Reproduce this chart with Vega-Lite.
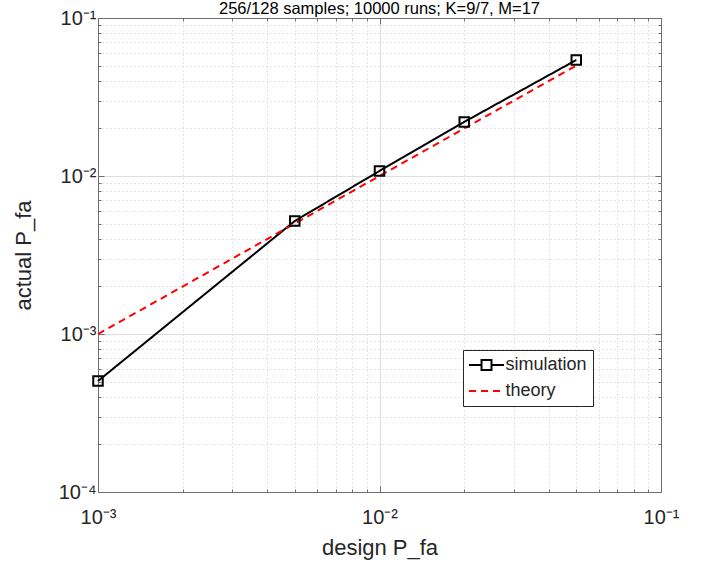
{
  "$schema": "https://vega.github.io/schema/vega-lite/v6.json",
  "width": 563,
  "height": 474,
  "autosize": {"type": "none"},
  "padding": {"left": 98, "top": 18, "right": 43, "bottom": 85},
  "background": "white",
  "title": {
    "text": "256/128 samples; 10000 runs; K=9/7, M=17",
    "fontSize": 16.5,
    "fontWeight": "normal",
    "font": "Liberation Sans",
    "color": "#000000",
    "offset": -9
  },
  "config": {
    "view": {"stroke": null},
    "font": "Liberation Sans"
  },
  "datasets": {
    "curves": [
      {"design": 0.001, "actual": 0.000504, "series": "simulation"},
      {"design": 0.005, "actual": 0.00519, "series": "simulation"},
      {"design": 0.01, "actual": 0.01076, "series": "simulation"},
      {"design": 0.02, "actual": 0.0220, "series": "simulation"},
      {"design": 0.05, "actual": 0.0542, "series": "simulation"},
      {"design": 0.001, "actual": 0.001, "series": "theory"},
      {"design": 0.005, "actual": 0.005, "series": "theory"},
      {"design": 0.01, "actual": 0.01, "series": "theory"},
      {"design": 0.02, "actual": 0.02, "series": "theory"},
      {"design": 0.05, "actual": 0.05, "series": "theory"}
    ]
  },
  "data": {"name": "curves"},
  "resolve": {"axis": {"x": "independent", "y": "independent"}},
  "layer": [
    {
      "mark": {"type": "line", "strokeWidth": 2},
      "encoding": {
        "x": {
          "field": "design", "type": "quantitative",
          "scale": {"type": "log", "domain": [0.001, 0.1], "nice": false},
          "axis": {
            "orient": "bottom",
            "title": "design P_fa",
            "titleFontSize": 22,
            "titleFontWeight": "normal",
            "titleColor": "#262626",
            "titlePadding": 7,
            "values": [0.001,0.002,0.003,0.004,0.005,0.006,0.007,0.008,0.009,0.01,0.02,0.03,0.04,0.05,0.06,0.07,0.08,0.09,0.1],
            "labelExpr": "abs(log(datum.value)/LN10 - round(log(datum.value)/LN10)) < 0.001 ? '10' + (round(log(datum.value)/LN10) == -3 ? '⁻³' : round(log(datum.value)/LN10) == -2 ? '⁻²' : '⁻¹') : ''",
            "labelFontSize": 20,
            "labelColor": "#262626",
            "labelFlush": false,
            "labelOverlap": false,
            "labelPadding": 21,
            "grid": true,
            "gridColor": {"condition": {"test": "abs(log(datum.value)/LN10 - round(log(datum.value)/LN10)) < 0.001", "value": "#dedede"}, "value": "#c8c8c8"},
            "gridDash": {"condition": {"test": "abs(log(datum.value)/LN10 - round(log(datum.value)/LN10)) < 0.001", "value": []}, "value": [1, 3]},
            "tickSize": {"condition": {"test": "abs(log(datum.value)/LN10 - round(log(datum.value)/LN10)) < 0.001", "value": -6}, "value": -3},
            "tickColor": "#6e6e6e",
            "domainColor": "#6e6e6e"
          }
        },
        "y": {
          "field": "actual", "type": "quantitative",
          "scale": {"type": "log", "domain": [0.0001, 0.1], "nice": false},
          "axis": {
            "orient": "left",
            "title": "actual P_fa",
            "titleFontSize": 22,
            "titleFontWeight": "normal",
            "titleColor": "#262626",
            "titlePadding": 23,
            "values": [0.0001,0.0002,0.0003,0.0004,0.0005,0.0006,0.0007,0.0008,0.0009,0.001,0.002,0.003,0.004,0.005,0.006,0.007,0.008,0.009,0.01,0.02,0.03,0.04,0.05,0.06,0.07,0.08,0.09,0.1],
            "labelExpr": "abs(log(datum.value)/LN10 - round(log(datum.value)/LN10)) < 0.001 ? '10' + (round(log(datum.value)/LN10) == -4 ? '⁻⁴' : round(log(datum.value)/LN10) == -3 ? '⁻³' : round(log(datum.value)/LN10) == -2 ? '⁻²' : '⁻¹') : ''",
            "labelFontSize": 20,
            "labelColor": "#262626",
            "labelFlush": false,
            "labelOverlap": false,
            "labelPadding": 8,
            "grid": true,
            "gridColor": {"condition": {"test": "abs(log(datum.value)/LN10 - round(log(datum.value)/LN10)) < 0.001", "value": "#dedede"}, "value": "#c8c8c8"},
            "gridDash": {"condition": {"test": "abs(log(datum.value)/LN10 - round(log(datum.value)/LN10)) < 0.001", "value": []}, "value": [1, 3]},
            "tickSize": {"condition": {"test": "abs(log(datum.value)/LN10 - round(log(datum.value)/LN10)) < 0.001", "value": -6}, "value": -3},
            "tickColor": "#6e6e6e",
            "domainColor": "#6e6e6e"
          }
        },
        "color": {
          "field": "series", "type": "nominal",
          "scale": {"domain": ["simulation", "theory"], "range": ["#000000", "#ff0000"]},
          "legend": {
            "orient": "none",
            "legendX": 365,
            "legendY": 332,
            "title": null,
            "symbolType": "stroke",
            "symbolSize": 144,
            "symbolStrokeWidth": 2,
            "symbolOffset": 8.5,
            "labelFontSize": 18,
            "labelColor": "#262626",
            "labelOffset": 10,
            "strokeColor": "#262626",
            "fillColor": "white",
            "padding": 6,
            "rowPadding": 8,
            "encode": {
              "symbols": {
                "update": {
                  "shape": {"signal": "datum.value === 'simulation' ? 'M-2.92,0H-0.83M0.83,0H2.92M-0.83,-0.83H0.83V0.83H-0.83Z' : 'M-2.92,0H2.92'"},
                  "strokeDash": {"signal": "datum.value === 'theory' ? [6,4] : [1,0]"},
                  "fill": {"value": "transparent"}
                }
              }
            }
          }
        },
        "strokeDash": {
          "field": "series", "type": "nominal",
          "scale": {"domain": ["simulation", "theory"], "range": [[1, 0], [7, 5]]},
          "legend": null
        }
      }
    },
    {
      "transform": [{"filter": "datum.series === 'simulation'"}],
      "mark": {"type": "point", "shape": "square", "filled": false, "size": 90, "strokeWidth": 2, "color": "#000000", "opacity": 1},
      "encoding": {
        "x": {
          "field": "design", "type": "quantitative",
          "scale": {"type": "log", "domain": [0.001, 0.1], "nice": false},
          "axis": {
            "orient": "top",
            "title": null,
            "labels": false,
            "grid": false,
            "values": [0.001,0.002,0.003,0.004,0.005,0.006,0.007,0.008,0.009,0.01,0.02,0.03,0.04,0.05,0.06,0.07,0.08,0.09,0.1],
            "tickSize": {"condition": {"test": "abs(log(datum.value)/LN10 - round(log(datum.value)/LN10)) < 0.001", "value": -6}, "value": -3},
            "tickColor": "#6e6e6e",
            "domainColor": "#6e6e6e"
          }
        },
        "y": {
          "field": "actual", "type": "quantitative",
          "scale": {"type": "log", "domain": [0.0001, 0.1], "nice": false},
          "axis": {
            "orient": "right",
            "title": null,
            "labels": false,
            "grid": false,
            "values": [0.0001,0.0002,0.0003,0.0004,0.0005,0.0006,0.0007,0.0008,0.0009,0.001,0.002,0.003,0.004,0.005,0.006,0.007,0.008,0.009,0.01,0.02,0.03,0.04,0.05,0.06,0.07,0.08,0.09,0.1],
            "tickSize": {"condition": {"test": "abs(log(datum.value)/LN10 - round(log(datum.value)/LN10)) < 0.001", "value": -6}, "value": -3},
            "tickColor": "#6e6e6e",
            "domainColor": "#6e6e6e"
          }
        }
      }
    }
  ]
}
